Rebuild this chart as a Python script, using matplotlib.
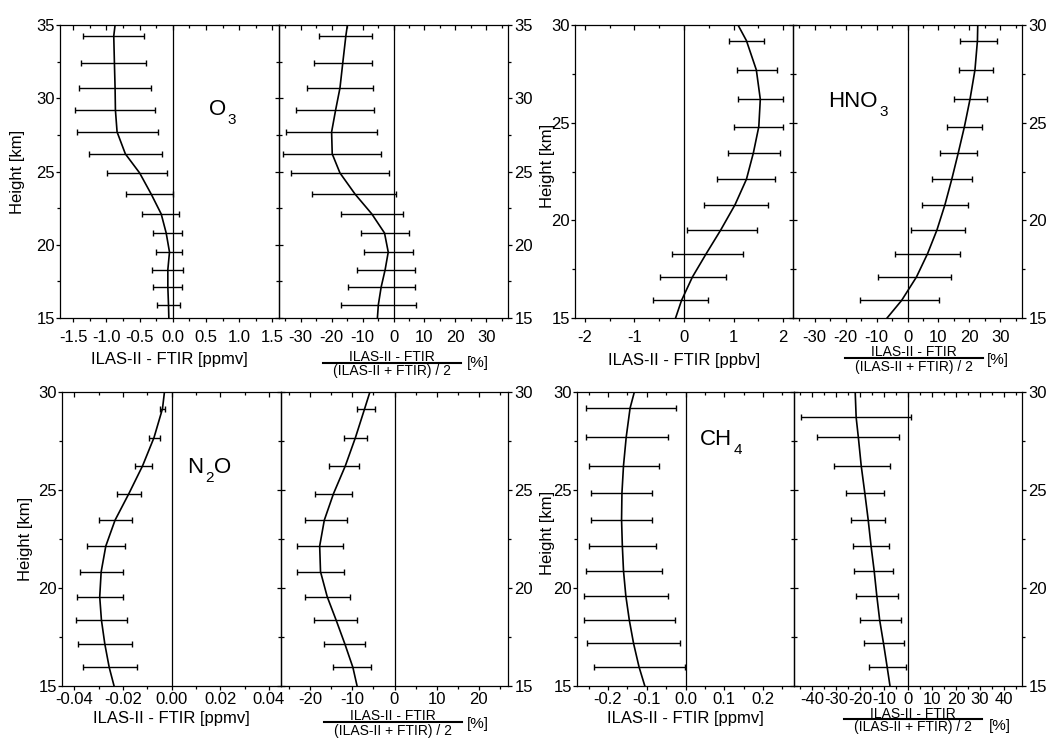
import numpy as np
import matplotlib
matplotlib.use("Agg")
import matplotlib.pyplot as plt
from matplotlib.lines import Line2D
from matplotlib.ticker import MultipleLocator, FormatStrFormatter

plt.rcParams["font.family"] = ["Liberation Sans", "DejaVu Sans"]
plt.rcParams["axes.unicode_minus"] = False

# ---------------- data ----------------
# O3
o3_line_h = [35, 34.25, 32.4, 30.7, 29.2, 27.7, 26.2, 24.9, 23.45, 22.1, 20.8, 19.5, 18.3, 17.1, 15.9, 15]
o3_ppmv = [-0.87, -0.89, -0.88, -0.87, -0.865, -0.84, -0.715, -0.50, -0.325, -0.175, -0.10, -0.05, -0.075, -0.075, -0.065, -0.06]
o3_pct = [-14.9, -15.4, -16.4, -17.3, -18.7, -20.0, -19.8, -17.3, -12.4, -7.0, -2.9, -1.7, -2.7, -4.0, -4.9, -5.2]
o3_bar_h = [34.25, 32.4, 30.7, 29.2, 27.7, 26.2, 24.9, 23.45, 22.1, 20.8, 19.5, 18.3, 17.1, 15.9]
o3_ppmv_lo = [-1.35, -1.38, -1.41, -1.47, -1.44, -1.26, -0.99, -0.70, -0.47, -0.30, -0.25, -0.31, -0.30, -0.24]
o3_ppmv_hi = [-0.43, -0.40, -0.33, -0.27, -0.22, -0.16, -0.09, 0.0, 0.10, 0.14, 0.14, 0.15, 0.14, 0.11]
o3_pct_lo = [-24.1, -25.8, -27.8, -31.4, -34.6, -35.7, -33.0, -26.2, -17.1, -10.4, -9.5, -11.9, -14.8, -17.0]
o3_pct_hi = [-6.8, -7.0, -6.5, -6.2, -5.3, -3.9, -1.6, 0.9, 3.2, 5.0, 6.3, 6.9, 7.1, 7.4]

# HNO3
hno3_line_h = [30, 29.2, 27.7, 26.2, 24.8, 23.45, 22.1, 20.8, 19.5, 18.3, 17.1, 15.9, 15]
hno3_ppbv = [1.09, 1.26, 1.46, 1.54, 1.51, 1.40, 1.26, 1.03, 0.74, 0.45, 0.17, -0.05, -0.17]
hno3_pct = [22.7, 22.6, 21.8, 20.2, 18.4, 16.4, 14.3, 12.1, 9.5, 6.5, 2.9, -1.9, -6.6]
hno3_bar_h = [29.2, 27.7, 26.2, 24.8, 23.45, 22.1, 20.8, 19.5, 18.3, 17.1, 15.9]
hno3_ppbv_lo = [0.91, 1.06, 1.09, 1.01, 0.88, 0.67, 0.40, 0.06, -0.25, -0.49, -0.62]
hno3_ppbv_hi = [1.62, 1.87, 1.99, 1.99, 1.93, 1.84, 1.70, 1.48, 1.19, 0.85, 0.48]
hno3_pct_lo = [17.1, 16.5, 15.0, 12.8, 10.5, 7.8, 4.8, 1.0, -3.9, -9.5, -15.2]
hno3_pct_hi = [29.0, 27.5, 25.7, 24.0, 22.4, 20.8, 19.6, 18.5, 17.0, 14.2, 10.3]

# N2O
n2o_line_h = [30, 29.15, 27.67, 26.23, 24.82, 23.46, 22.14, 20.83, 19.55, 18.37, 17.14, 15.95, 15]
n2o_ppmv = [-0.0029, -0.0037, -0.0072, -0.0119, -0.0175, -0.0232, -0.0270, -0.0289, -0.0295, -0.0288, -0.0274, -0.0256, -0.0236]
n2o_pct = [-5.85, -7.1, -9.3, -11.7, -14.5, -16.7, -17.8, -17.6, -16.0, -13.9, -11.8, -9.9, -8.9]
n2o_bar_h = [29.15, 27.67, 26.23, 24.82, 23.46, 22.14, 20.83, 19.55, 18.37, 17.14, 15.95]
n2o_ppmv_lo = [-0.0049, -0.0091, -0.0151, -0.0226, -0.0300, -0.0348, -0.0376, -0.0387, -0.0391, -0.0386, -0.0365]
n2o_ppmv_hi = [-0.0025, -0.0046, -0.0080, -0.0127, -0.0164, -0.0191, -0.0200, -0.0198, -0.0181, -0.0161, -0.0143]
n2o_pct_lo = [-8.9, -12.1, -15.6, -18.9, -21.4, -23.3, -23.1, -21.3, -19.1, -16.8, -14.6]
n2o_pct_hi = [-4.7, -6.6, -8.5, -10.2, -11.3, -12.2, -11.9, -10.7, -8.9, -7.0, -5.7]

# CH4
ch4_line_h = [30, 29.18, 27.7, 26.24, 24.85, 23.49, 22.15, 20.88, 19.6, 18.36, 17.17, 15.98, 15]
ch4_ppmv = [-0.132, -0.143, -0.153, -0.160, -0.164, -0.165, -0.163, -0.160, -0.154, -0.145, -0.134, -0.120, -0.105]
ch4_bar_h = [29.18, 27.7, 26.24, 24.85, 23.49, 22.15, 20.88, 19.6, 18.36, 17.17, 15.98]
ch4_ppmv_lo = [-0.256, -0.258, -0.250, -0.243, -0.244, -0.249, -0.256, -0.262, -0.262, -0.253, -0.236]
ch4_ppmv_hi = [-0.025, -0.045, -0.068, -0.086, -0.086, -0.076, -0.061, -0.044, -0.028, -0.014, -0.001]
ch4_pct_line_h = [30, 28.7, 27.7, 26.24, 24.85, 23.49, 22.15, 20.88, 19.6, 18.36, 17.17, 15.98, 15]
ch4_pct = [-22.0, -21.6, -20.7, -19.5, -18.0, -16.6, -15.4, -14.1, -13.0, -11.8, -10.2, -8.7, -7.5]
ch4_pct_bar_h = [28.7, 27.7, 26.24, 24.85, 23.49, 22.15, 20.88, 19.6, 18.36, 17.17, 15.98]
ch4_pct_lo = [-44.4, -37.8, -30.8, -25.7, -23.8, -23.1, -22.5, -21.6, -20.2, -18.4, -16.2]
ch4_pct_hi = [1.4, -3.6, -7.7, -10.1, -9.5, -8.0, -6.2, -4.3, -3.0, -1.7, -0.8]

# ---------------- layout ----------------
W, H = 1051, 738
fig = plt.figure(figsize=(W / 100, H / 100), dpi=100)


def rect(x0, x1, y0, y1):
    return [x0 / W, 1 - y1 / H, (x1 - x0) / W, (y1 - y0) / H]


def style_axes(ax, side, xlim, xmaj, xfmt, ylim, row):
    ax.set_xlim(*xlim)
    ax.set_ylim(*ylim)
    ax.patch.set_alpha(0)
    for s in ax.spines.values():
        s.set_linewidth(0.9)
    ax.xaxis.set_major_locator(MultipleLocator(xmaj))
    ax.xaxis.set_minor_locator(MultipleLocator(xmaj / 2))
    ax.xaxis.set_major_formatter(FormatStrFormatter(xfmt))
    ax.yaxis.set_major_locator(MultipleLocator(5))
    ax.yaxis.set_minor_locator(MultipleLocator(2.5))
    xpad = 5.5 if row == 0 else 1.0
    ax.tick_params(axis="x", which="both", direction="out", labelsize=12, pad=xpad, width=0.9)
    ax.tick_params(axis="x", which="major", length=3)
    ax.tick_params(axis="x", which="minor", length=2.5)
    if side == "left":
        ax.tick_params(axis="y", which="both", direction="out", labelsize=12, pad=0.5, width=0.9)
        other = ax.secondary_yaxis("right")
    else:
        ax.yaxis.tick_right()
        ax.tick_params(axis="y", which="both", direction="out", labelsize=12, pad=1.5, width=0.9)
        other = ax.secondary_yaxis("left")
    ax.tick_params(axis="y", which="major", length=3)
    ax.tick_params(axis="y", which="minor", length=2)
    other.yaxis.set_major_locator(MultipleLocator(5))
    other.yaxis.set_minor_locator(MultipleLocator(2.5))
    other.tick_params(which="both", direction="in", labelleft=False, labelright=False, width=0.9)
    other.tick_params(which="major", length=3)
    other.tick_params(which="minor", length=2)
    for s in other.spines.values():
        s.set_visible(False)
    top = ax.secondary_xaxis("top")
    top.xaxis.set_major_locator(MultipleLocator(xmaj))
    top.xaxis.set_minor_locator(MultipleLocator(xmaj / 2))
    top.tick_params(which="both", direction="in", labeltop=False, width=0.9)
    top.tick_params(which="major", length=3.5)
    top.tick_params(which="minor", length=2.5)
    for s in top.spines.values():
        s.set_visible(False)
    ax.axvline(0, color="k", lw=0.9, zorder=1)


def profile(ax, line_h, line_x, bar_h, lo, hi):
    lo = np.asarray(lo)
    hi = np.asarray(hi)
    ax.plot(line_x, line_h, color="k", lw=1.2, zorder=3)
    ax.errorbar((lo + hi) / 2, bar_h, xerr=(hi - lo) / 2, fmt="none", ecolor="k",
                elinewidth=1.0, capsize=2.2, capthick=1.0, zorder=2)


def chem_label(ax, x, y, pieces):
    base = ax.text(x, y, pieces[0][0], transform=ax.transAxes, fontsize=16,
                   ha="left", va="baseline")
    prev = base
    for txt, sub in pieces[1:]:
        if sub:
            prev = ax.annotate(txt, xy=(1, y), xycoords=(prev, ax.transAxes), xytext=(1.2, 1.5),
                               textcoords="offset points", fontsize=11, ha="left", va="top")
        else:
            prev = ax.annotate(txt, xy=(1, y), xycoords=(prev, ax.transAxes), xytext=(0.3, 0),
                               textcoords="offset points", fontsize=16, ha="left", va="baseline")


def frac_label(cx, y_line, half, x_pct, y_pct):
    fig.text(cx / W, 1 - (y_line - 1.5) / H, "ILAS-II - FTIR", fontsize=10, ha="center", va="baseline")
    fig.text(cx / W, 1 - (y_line + 1.5) / H, "(ILAS-II + FTIR) / 2", fontsize=10, ha="center", va="top")
    fig.add_artist(Line2D([(cx - half) / W, (cx + half) / W], [1 - y_line / H, 1 - y_line / H],
                          color="k", lw=1.5, transform=fig.transFigure))
    fig.text(x_pct / W, 1 - y_pct / H, "[%]", fontsize=11, ha="left", va="center")


# O3
axA = fig.add_axes(rect(60, 279, 25, 318))
axB = fig.add_axes(rect(279, 508, 25, 318))
style_axes(axA, "left", (-1.7, 1.6), 0.5, "%.1f", (15, 35), 0)
style_axes(axB, "right", (-37, 37), 10, "%d", (15, 35), 0)
profile(axA, o3_line_h, o3_ppmv, o3_bar_h, o3_ppmv_lo, o3_ppmv_hi)
profile(axB, o3_line_h, o3_pct, o3_bar_h, o3_pct_lo, o3_pct_hi)
axA.set_xlabel("ILAS-II - FTIR [ppmv]", fontsize=12, labelpad=5)
axA.set_ylabel("Height [km]", fontsize=12)
axA.yaxis.set_label_coords(-0.16, 0.5)
chem_label(axA, 0.68, 0.693, [("O", False), ("3", True)])
frac_label(392, 363, 69, 467, 363)

# HNO3
axC = fig.add_axes(rect(575, 793, 25, 318))
axD = fig.add_axes(rect(793, 1022, 25, 318))
style_axes(axC, "left", (-2.2, 2.2), 1, "%d", (15, 30), 0)
style_axes(axD, "right", (-37, 37), 10, "%d", (15, 30), 0)
profile(axC, hno3_line_h, hno3_ppbv, hno3_bar_h, hno3_ppbv_lo, hno3_ppbv_hi)
profile(axD, hno3_line_h, hno3_pct, hno3_bar_h, hno3_pct_lo, hno3_pct_hi)
axC.set_xlabel("ILAS-II - FTIR [ppbv]", fontsize=12, labelpad=6)
axC.set_ylabel("Height [km]", fontsize=12)
axC.yaxis.set_label_coords(-0.092, 0.52)
chem_label(axD, 0.153, 0.72, [("HNO", False), ("3", True)])
frac_label(914, 358, 69, 987, 360)

# N2O
axE = fig.add_axes(rect(62, 281, 392, 686))
axF = fig.add_axes(rect(281, 508, 392, 686))
style_axes(axE, "left", (-0.045, 0.045), 0.02, "%.2f", (15, 30), 1)
style_axes(axF, "right", (-27, 27), 10, "%d", (15, 30), 1)
profile(axE, n2o_line_h, n2o_ppmv, n2o_bar_h, n2o_ppmv_lo, n2o_ppmv_hi)
profile(axF, n2o_line_h, n2o_pct, n2o_bar_h, n2o_pct_lo, n2o_pct_hi)
axE.set_xlabel("ILAS-II - FTIR [ppmv]", fontsize=12, labelpad=3)
axE.set_ylabel("Height [km]", fontsize=12)
axE.yaxis.set_label_coords(-0.132, 0.5)
chem_label(axE, 0.571, 0.724, [("N", False), ("2", True), ("O", False)])
frac_label(393, 722, 69, 467, 724)

# CH4
axG = fig.add_axes(rect(577, 794, 392, 686))
axH = fig.add_axes(rect(794, 1022, 392, 686))
style_axes(axG, "left", (-0.28, 0.28), 0.1, "%.1f", (15, 30), 1)
style_axes(axH, "right", (-47.5, 47.5), 10, "%d", (15, 30), 1)
profile(axG, ch4_line_h, ch4_ppmv, ch4_bar_h, ch4_ppmv_lo, ch4_ppmv_hi)
profile(axH, ch4_pct_line_h, ch4_pct, ch4_pct_bar_h, ch4_pct_lo, ch4_pct_hi)
axG.set_xlabel("ILAS-II - FTIR [ppmv]", fontsize=12, labelpad=3)
axG.set_ylabel("Height [km]", fontsize=12)
axG.yaxis.set_label_coords(-0.101, 0.52)
chem_label(axG, 0.567, 0.82, [("CH", False), ("4", True)])
frac_label(913, 719, 69, 989, 726)

fig.savefig("out.png", dpi=100)
